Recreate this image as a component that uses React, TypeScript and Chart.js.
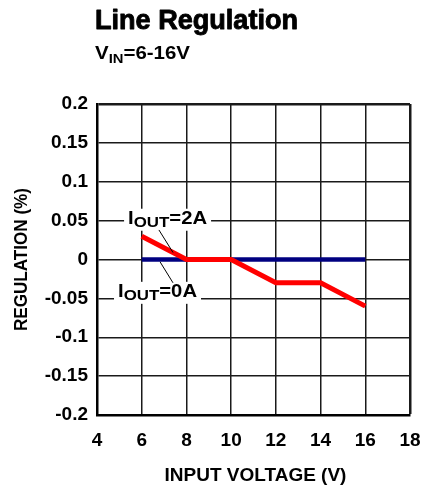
import React, { useEffect, useRef } from "react";
import { Chart, registerables } from "chart.js";
Chart.register(...registerables);

// ---- data ----
const inputVoltage = [6, 8, 10, 12, 14, 16];
const regulation2A = [0.03, 0, 0, -0.03, -0.03, -0.06];
const regulation0A = [0, 0, 0, 0, 0, 0];
const xTickValues = [4, 6, 8, 10, 12, 14, 16, 18];
const yTickValues = [-0.2, -0.15, -0.1, -0.05, 0, 0.05, 0.1, 0.15, 0.2];

const chartTitle = "Line Regulation";
const xAxisTitle = "INPUT VOLTAGE (V)";
const yAxisTitle = "REGULATION (%)";

// annotation anchors in data units
const label2A = { x: 5.39, y: 0.046 };
const leader2A = [
  [6.77, 0.038],
  [7.4, 0.009],
];
const label0A = { x: 4.94, y: -0.048 };
const leader0A = [
  [6.82, -0.003],
  [7.4, -0.03],
];

const FONT = "'Liberation Sans', Arial, Helvetica, sans-serif";

type Part = { t: string; size: number; dy: number };

function drawRich(
  ctx: CanvasRenderingContext2D,
  parts: Part[],
  x: number,
  y: number,
  targetWidth?: number,
  strokeW = 0
) {
  let w = 0;
  for (const p of parts) {
    ctx.font = `bold ${p.size}px ${FONT}`;
    w += ctx.measureText(p.t).width;
  }
  const s = targetWidth ? targetWidth / w : 1;
  ctx.save();
  ctx.translate(x, y);
  ctx.scale(s, 1);
  ctx.textAlign = "left";
  ctx.textBaseline = "alphabetic";
  ctx.fillStyle = "#000";
  ctx.strokeStyle = "#000";
  ctx.lineJoin = "round";
  let cx = 0;
  for (const p of parts) {
    ctx.font = `bold ${p.size}px ${FONT}`;
    ctx.fillText(p.t, cx, p.dy);
    if (strokeW > 0) {
      ctx.lineWidth = strokeW;
      ctx.strokeText(p.t, cx, p.dy);
    }
    cx += ctx.measureText(p.t).width;
  }
  ctx.restore();
  return w * s;
}

const textPlugin = {
  id: "textPlugin",
  beforeDraw(chart: any) {
    const ctx = chart.ctx as CanvasRenderingContext2D;
    ctx.save();
    ctx.fillStyle = "#fff";
    ctx.fillRect(0, 0, chart.width, chart.height);
    ctx.restore();
  },
  afterDatasetsDraw(chart: any) {
    const ctx = chart.ctx as CanvasRenderingContext2D;
    const xs = chart.scales.x;
    const ys = chart.scales.y;
    const labels = [
      { a: label2A, parts: [{ t: "I", size: 18, dy: 0 }, { t: "OUT", size: 15, dy: 3 }, { t: "=2A", size: 18, dy: 0 }] },
      { a: label0A, parts: [{ t: "I", size: 18, dy: 0 }, { t: "OUT", size: 15, dy: 3 }, { t: "=0A", size: 18, dy: 0 }] },
    ];
    const labelWidth = 79;
    for (const l of labels) {
      const px = xs.getPixelForValue(l.a.x);
      const py = ys.getPixelForValue(l.a.y);
      ctx.save();
      ctx.fillStyle = "#fff";
      ctx.fillRect(px - 4, py - 15, labelWidth + 8, 22);
      ctx.restore();
      drawRich(ctx, l.parts, px, py, labelWidth);
    }
    ctx.save();
    ctx.strokeStyle = "#000";
    ctx.lineWidth = 1;
    for (const ld of [leader2A, leader0A]) {
      ctx.beginPath();
      ctx.moveTo(xs.getPixelForValue(ld[0][0]), ys.getPixelForValue(ld[0][1]));
      ctx.lineTo(xs.getPixelForValue(ld[1][0]), ys.getPixelForValue(ld[1][1]));
      ctx.stroke();
    }
    ctx.restore();
  },
  afterDraw(chart: any) {
    const ctx = chart.ctx as CanvasRenderingContext2D;
    const area = chart.chartArea;
    // title
    drawRich(ctx, [{ t: chartTitle, size: 27, dy: 0 }], 95, 29, 203, 0.9);
    // subtitle
    drawRich(
      ctx,
      [
        { t: "V", size: 18, dy: 0 },
        { t: "IN", size: 13, dy: 4 },
        { t: "=6-16V", size: 18, dy: 0 },
      ],
      95,
      59,
      95
    );
    // x axis title
    ctx.save();
    ctx.font = `bold 19px ${FONT}`;
    ctx.fillStyle = "#000";
    ctx.textAlign = "center";
    ctx.textBaseline = "alphabetic";
    ctx.fillText(xAxisTitle, (area.left + area.right) / 2 + 2, 481, 190);
    ctx.restore();
    // y axis title
    ctx.save();
    ctx.translate(27, (area.top + area.bottom) / 2);
    ctx.rotate(-Math.PI / 2);
    ctx.font = `bold 19px ${FONT}`;
    ctx.fillStyle = "#000";
    ctx.textAlign = "center";
    ctx.textBaseline = "alphabetic";
    ctx.fillText(yAxisTitle, 0, 0, 143);
    ctx.restore();
  },
};

export default function App() {
  const ref = useRef<HTMLCanvasElement>(null);
  useEffect(() => {
    const canvas = ref.current!;
    const xMin = xTickValues[0];
    const xMax = xTickValues[xTickValues.length - 1];
    const yMin = yTickValues[0];
    const yMax = yTickValues[yTickValues.length - 1];
    const gridWidth = (c: any) => {
      const v = c.tick ? c.tick.value : null;
      return v === xMax || v === yMax ? 2.5 : 1.5;
    };
    const chart = new Chart(canvas, {
      type: "line",
      data: {
        datasets: [
          {
            label: "IOUT=2A",
            data: inputVoltage.map((x, i) => ({ x, y: regulation2A[i] })),
            borderColor: "#ff0000",
            borderWidth: 5,
            pointRadius: 0,
            tension: 0,
            fill: false,
          },
          {
            label: "IOUT=0A",
            data: inputVoltage.map((x, i) => ({ x, y: regulation0A[i] })),
            borderColor: "#000080",
            borderWidth: 4.5,
            pointRadius: 0,
            tension: 0,
            fill: false,
          },
        ],
      },
      options: {
        responsive: false,
        animation: false,
        events: [],
        layout: { padding: { left: 0, right: 14, top: 104, bottom: 0 } },
        plugins: {
          legend: { display: false },
          title: { display: false },
          tooltip: { enabled: false },
        },
        scales: {
          x: {
            type: "linear",
            min: xMin,
            max: xMax,
            afterBuildTicks: (s: any) => {
              s.ticks = xTickValues.map((v) => ({ value: v }));
            },
            afterFit: (s: any) => {
              s.height = 74;
              s.paddingLeft = 0;
              s.paddingRight = 0;
            },
            grid: {
              color: "#1a1a1a",
              lineWidth: gridWidth,
              drawTicks: false,
            },
            border: { display: true, color: "#000", width: 2.5 },
            ticks: {
              padding: 14,
              maxRotation: 0,
              autoSkip: false,
              color: "#000",
              font: { family: FONT, size: 19, weight: "bold" },
            },
          },
          y: {
            type: "linear",
            min: yMin,
            max: yMax,
            afterBuildTicks: (s: any) => {
              s.ticks = yTickValues.map((v) => ({ value: v }));
            },
            afterFit: (s: any) => {
              s.width = 97;
              s.paddingTop = 0;
              s.paddingBottom = 0;
            },
            grid: {
              color: "#1a1a1a",
              lineWidth: gridWidth,
              drawTicks: false,
            },
            border: { display: true, color: "#000", width: 2.5 },
            ticks: {
              padding: 9,
              autoSkip: false,
              color: "#000",
              font: { family: FONT, size: 19, weight: "bold" },
              callback: (v: any) => String(Math.round(Number(v) * 100) / 100),
            },
          },
        },
      },
      plugins: [textPlugin],
    } as any);
    return () => chart.destroy();
  }, []);
  return (
    <div style={{ position: "fixed", left: 0, top: 0, width: 424, height: 489, background: "#fff" }}>
      <canvas ref={ref} width={424} height={489} style={{ width: 424, height: 489, display: "block" }} />
    </div>
  );
}
